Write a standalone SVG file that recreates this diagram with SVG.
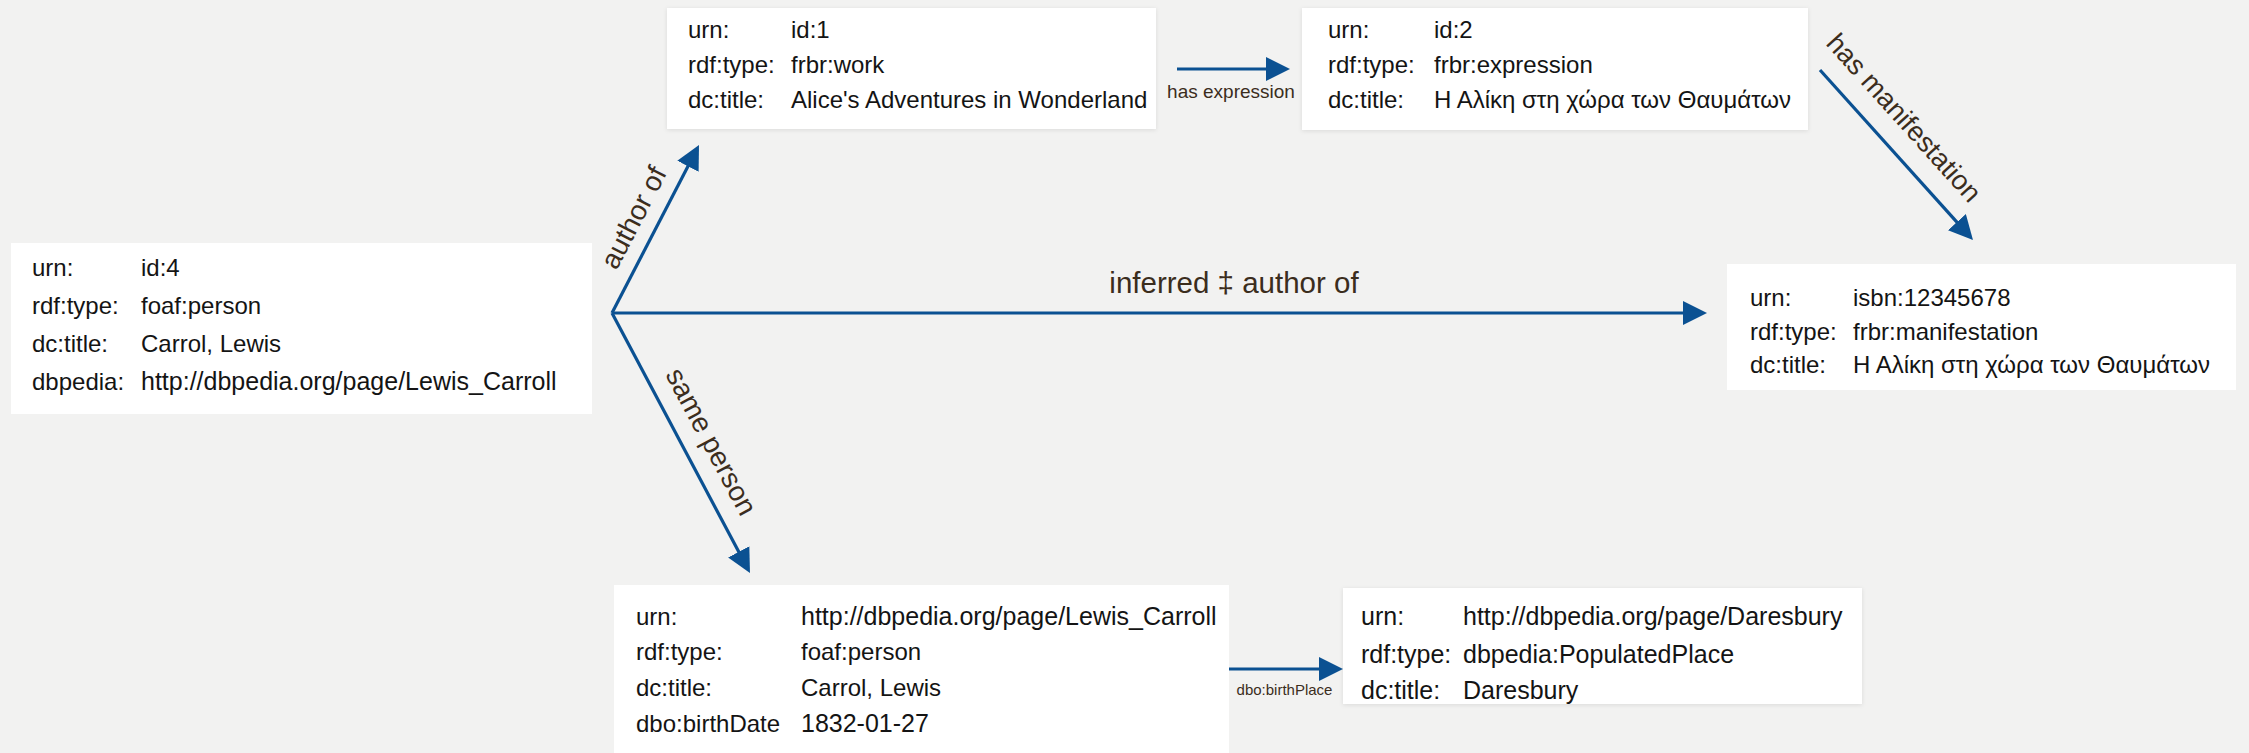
<svg xmlns="http://www.w3.org/2000/svg" width="2249" height="753" viewBox="0 0 2249 753">
<defs>
<style>
.bg{fill:#f2f2f1}
.box{fill:#ffffff}
.t{font-family:"Liberation Sans",Arial,sans-serif;font-size:24px;fill:#141414}
.u{font-family:"Liberation Sans",Arial,sans-serif;font-size:25px;fill:#141414}
.f{font-family:"Liberation Sans",Arial,sans-serif;font-size:25px;fill:#141414}
.el{font-family:"Liberation Sans",Arial,sans-serif;fill:#3b2d1d}
.edge{stroke:#0b5192;stroke-width:3.2;fill:none;marker-end:url(#ah)}
</style>
<marker id="ah" markerUnits="userSpaceOnUse" markerWidth="26" markerHeight="26" refX="4" refY="12" orient="auto">
<path d="M0,0 L24,12 L0,24 Z" fill="#0b5192"/>
</marker>
<filter id="sh" x="-5%" y="-10%" width="110%" height="120%">
<feDropShadow dx="0" dy="1" stdDeviation="2" flood-color="#000" flood-opacity="0.10"/>
</filter>
</defs>
<rect class="bg" x="0" y="0" width="2249" height="753"/>

<g id="connectors">
<line class="edge" x1="612" y1="313" x2="689.8" y2="162.8"/>
<line class="edge" x1="612" y1="313" x2="740.6" y2="555.3"/>
<line class="edge" x1="612" y1="313" x2="1687" y2="313"/>
<line class="edge" x1="1177" y1="69" x2="1270" y2="69"/>
<line class="edge" x1="1820" y1="70" x2="1959.6" y2="225.1"/>
<line class="edge" x1="1228" y1="669" x2="1323" y2="669"/>
<text class="el" font-size="28" text-anchor="middle" transform="translate(642,222) rotate(-62.6)">author of</text>
<text class="el" font-size="28" text-anchor="middle" transform="translate(703,446) rotate(62)">same person</text>
<text class="el" font-size="29.5" text-anchor="middle" x="1234" y="293">inferred ‡ author of</text>
<text class="el" font-size="19" text-anchor="middle" x="1231" y="98">has expression</text>
<text class="el" font-size="27.5" text-anchor="middle" transform="translate(1897,124) rotate(48)">has manifestation</text>
<text class="el" font-size="15" text-anchor="middle" x="1284.5" y="695">dbo:birthPlace</text>
</g>

<g id="node-id4">
<rect class="box" x="11" y="243" width="581" height="171"/>
<text class="t" x="32" y="276">urn:</text><text class="t" x="141" y="276">id:4</text>
<text class="t" x="32" y="314">rdf:type:</text><text class="t" x="141" y="314">foaf:person</text>
<text class="t" x="32" y="352">dc:title:</text><text class="t" x="141" y="352">Carrol, Lewis</text>
<text class="t" x="32" y="390">dbpedia:</text><text class="u" x="141" y="390">http://dbpedia.org/page/Lewis_Carroll</text>
</g>

<g id="node-id1">
<rect class="box" x="667" y="8" width="489" height="121" filter="url(#sh)"/>
<text class="t" x="688" y="38">urn:</text><text class="t" x="791" y="38">id:1</text>
<text class="t" x="688" y="73">rdf:type:</text><text class="t" x="791" y="73">frbr:work</text>
<text class="t" x="688" y="108">dc:title:</text><text class="t" x="791" y="108">Alice's Adventures in Wonderland</text>
</g>

<g id="node-id2">
<rect class="box" x="1302" y="8" width="506" height="122" filter="url(#sh)"/>
<text class="t" x="1328" y="38">urn:</text><text class="t" x="1434" y="38">id:2</text>
<text class="t" x="1328" y="73">rdf:type:</text><text class="t" x="1434" y="73">frbr:expression</text>
<text class="t" x="1328" y="108">dc:title:</text><text class="t" x="1434" y="108">Η Αλίκη στη χώρα των Θαυμάτων</text>
</g>

<g id="node-isbn">
<rect class="box" x="1727" y="264" width="509" height="126"/>
<text class="t" x="1750" y="306">urn:</text><text class="t" x="1853" y="306">isbn:12345678</text>
<text class="t" x="1750" y="340">rdf:type:</text><text class="t" x="1853" y="340">frbr:manifestation</text>
<text class="t" x="1750" y="373">dc:title:</text><text class="t" x="1853" y="373">Η Αλίκη στη χώρα των Θαυμάτων</text>
</g>

<g id="node-dbpedia-carroll">
<rect class="box" x="614" y="585" width="615" height="170"/>
<text class="t" x="636" y="625">urn:</text><text class="u" x="801" y="625">http://dbpedia.org/page/Lewis_Carroll</text>
<text class="t" x="636" y="660">rdf:type:</text><text class="t" x="801" y="660">foaf:person</text>
<text class="t" x="636" y="696">dc:title:</text><text class="t" x="801" y="696">Carrol, Lewis</text>
<text class="t" x="636" y="732">dbo:birthDate</text><text class="u" x="801" y="732">1832-01-27</text>
</g>

<g id="node-daresbury">
<rect class="box" x="1343" y="588" width="519" height="116" filter="url(#sh)"/>
<text class="f" x="1361" y="625">urn:</text><text class="f" x="1463" y="625" font-size="26">http://dbpedia.org/page/Daresbury</text>
<text class="f" x="1361" y="663">rdf:type:</text><text class="f" x="1463" y="663">dbpedia:PopulatedPlace</text>
<text class="f" x="1361" y="699">dc:title:</text><text class="f" x="1463" y="699">Daresbury</text>
</g>
</svg>
